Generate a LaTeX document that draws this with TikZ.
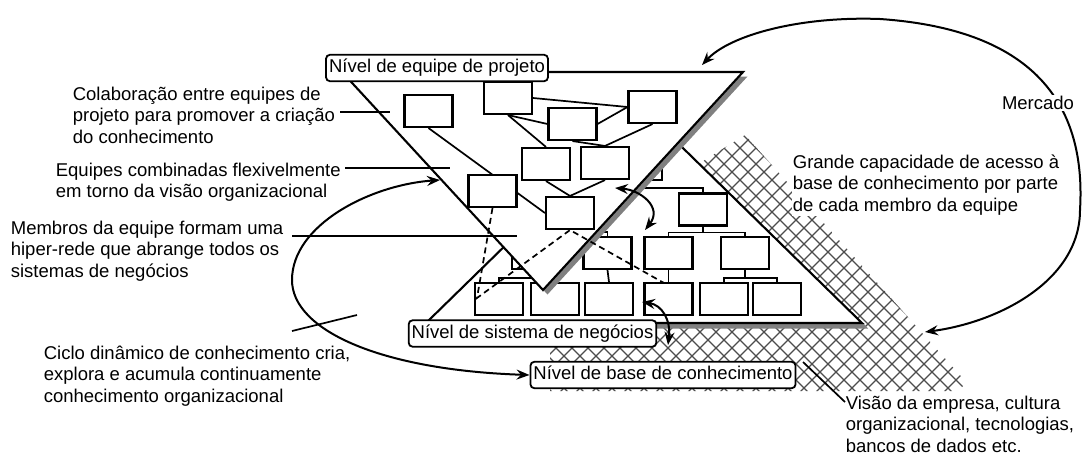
\documentclass[tikz,border=0pt]{standalone}
\usepackage{fontspec}
\setmainfont{Liberation Sans}
\usetikzlibrary{arrows.meta}

\begin{document}
\begin{tikzpicture}[x=1pt,y=-1pt,
  line width=1.7pt,
  unit/.style={draw, fill=white, line width=2.1pt, minimum width=48pt,
    minimum height=32pt, inner sep=0pt},
  level/.style={draw, fill=white, rounded corners=4pt, line width=1.8pt,
    inner xsep=3pt, inner ysep=4pt, text height=14pt, text depth=4.5pt,
    font=\fontsize{18.5}{21.5}\selectfont},
  note/.style={align=left, inner sep=0pt, anchor=north west,
    font=\fontsize{18.5}{21.5}\selectfont},
  lead/.style={line width=1.7pt},
  hyper/.style={dash pattern=on 6pt off 4pt, line width=1.7pt},
  hatchline/.style={line width=1.2pt, black!70},
  cyc/.style={line width=2pt, {Stealth[length=13pt,width=10pt,inset=4.5pt]}-{Stealth[length=13pt,width=10pt,inset=4.5pt]}},
  tri/.style={draw, fill=white, line width=2.1pt, line join=miter}
]
\useasboundingbox (0,0) rectangle (1082,456);

% knowledge-base layer: cross-hatched field
\begin{scope}
  \clip (745,135) -- (967,383) -- (957,391) -- (550,391) -- (550,328) -- (700,163) -- cycle;
  \foreach \c in {100,116,...,1300} {
    \draw[hatchline] (\c,100) -- ++(320,320);
    \draw[hatchline] (\c,100) -- ++(-320,320);
  }
\end{scope}

% business-system layer: pyramid with shadow under its base
\fill[gray] (430,323) -- (863,323) -- (868,328.5) -- (436,328.5) -- cycle;
\draw[tri] (426,323) -- (644,110) -- (862,323) -- cycle;

% hierarchy of the business system
\node[unit] (T0) at (638,164) {};
\node[unit] (T1a) at (576,209) {};
\node[unit] (T1b) at (703,209.5) {};
\node[unit] (M1) at (536,253) {};
\node[unit] (M2) at (607.5,253) {};
\node[unit] (M3) at (668.5,253) {};
\node[unit] (M4) at (745,253) {};
\node[unit] (L1) at (499,299) {};
\node[unit] (L2) at (555,299) {};
\node[unit] (L3) at (609,299) {};
\node[unit] (L4) at (668.5,299) {};
\node[unit] (L5) at (724,299) {};
\node[unit] (L6) at (777,299) {};
\draw (T0.south) -- ++(0,7) -| (T1a.north);
\draw (T0.south) -- ++(0,7) -| (T1b.north);
\draw (T1a.south) -- ++(0,6) -| (M1.north);
\draw (T1a.south) -- ++(0,6) -| (M2.north);
\draw (T1b.south) -- ++(0,6) -| (M3.north);
\draw (T1b.south) -- ++(0,6) -| (M4.north);
\draw (M1.south) -- ++(0,8) -| (L1.north);
\draw (M1.south) -- ++(0,8) -| (L2.north);
\draw (M2.south) -- (L3.north);
\draw (M3.south) -- (L4.north);
\draw (M4.south) -- ++(0,8) -| (L5.north);
\draw (M4.south) -- ++(0,8) -| (L6.north);

% project-team layer: inverted triangle with shadow
\fill[gray] (346.5,76.5) -- (747.5,76.5) -- (547.5,294.5) -- cycle;
\draw[tri] (342,72) -- (743,72) -- (543,290) -- cycle;

% project teams
\node[unit] (B1) at (428.5,111) {};
\node[unit] (B2) at (508,98) {};
\node[unit] (B3) at (572.5,124) {};
\node[unit] (B4) at (652.5,107) {};
\node[unit] (B5) at (546,164) {};
\node[unit] (B6) at (605,163) {};
\node[unit] (B8) at (570,213) {};
\draw (B1.south) -- (B8.west);
\node[unit] (B7) at (492.5,191) {};
\draw (B2.south) -- (B5.north);
\draw (B5.south) -- (B8.north);
\draw (B2.south) -- (B3.west);
\draw (B2.east) -- (B4.west);
\draw (B3.east) -- (B4.west);
\draw (B3.south) -- (B6.north);
\draw (B4.south) -- (B6.north);
\draw (B6.south) -- (B8.north);

% hyper-network links into the business system
\coordinate (h1) at (477,298);
\coordinate (h2) at (664,283);
\draw[hyper] (B7.south) -- (h1) -- (B8.south) -- (h2);

% level labels
\node[level] (PT) at (437,68) {Nível de equipe de projeto};
\node[level] (BS) at (532.5,333.5) {Nível de sistema de negócios};
\node[level] (KB) at (663,375) {Nível de base de conhecimento};

% annotations
\node[note] (n1) at (72,86) {Colaboração entre equipes de\\projeto para promover a criação\\do conhecimento};
\node[note] (n2) at (55,162) {Equipes combinadas flexivelmente\\em torno da visão organizacional};
\node[note] (n3) at (10,220) {Membros da equipe formam uma\\hiper-rede que abrange todos os\\sistemas de negócios};
\node[note] (n4) at (43,345) {Ciclo dinâmico de conhecimento cria,\\explora e acumula continuamente\\conhecimento organizacional};
\node[note, fill=white, inner sep=1pt] (n5) at (791,153) {Grande capacidade de acesso à\\base de conhecimento por parte\\de cada membro da equipe};
\node[note] (n6) at (845,395) {Visão da empresa, cultura\\organizacional, tecnologias,\\bancos de dados etc.};

\coordinate (l1a) at (340,112);  \coordinate (l1b) at (390,112);
\coordinate (l2a) at (345,168);  \coordinate (l2b) at (450,168);
\coordinate (l3a) at (292,236);  \coordinate (l3b) at (517,236);
\coordinate (l4a) at (292,331);  \coordinate (l4b) at (357,315);
\coordinate (l6a) at (803,362);  \coordinate (l6b) at (845,402);
\draw[lead] (l1a) -- (l1b);
\draw[lead] (l2a) -- (l2b);
\draw[lead] (l3a) -- (l3b);
\draw[lead] (l4a) -- (l4b);
\draw[lead] (l6a) -- (l6b);

% knowledge cycle
\coordinate (cycTop) at (440,180);
\draw[cyc] (cycTop) .. controls (370,185) and (292,225) .. (292,280)
  .. controls (292,330) and (380,370) .. (KB.west);

% market loop
\coordinate (mkTop) at (702,65);
\coordinate (mkBot) at (925,332);
\draw[cyc] (mkBot) .. controls (1000,322) and (1080,280) .. (1080,210)
  .. controls (1086,110) and (1040,30) .. (880,19)
  .. controls (800,16) and (730,35) .. (mkTop);
\node[fill=white, inner sep=1pt, font=\fontsize{18.5}{21.5}\selectfont] (mk) at (1038,103) {Mercado};

% exchanges between layers
\coordinate (xa1) at (615,188);  \coordinate (xa2) at (645,230);
\draw[cyc] (xa1) .. controls (640,190) and (663,207) .. (xa2);
\coordinate (xb1) at (642,302);  \coordinate (xb2) at (668,345);
\draw[cyc] (xb1) .. controls (662,305) and (671,320) .. (xb2);
\end{tikzpicture}
\end{document}
